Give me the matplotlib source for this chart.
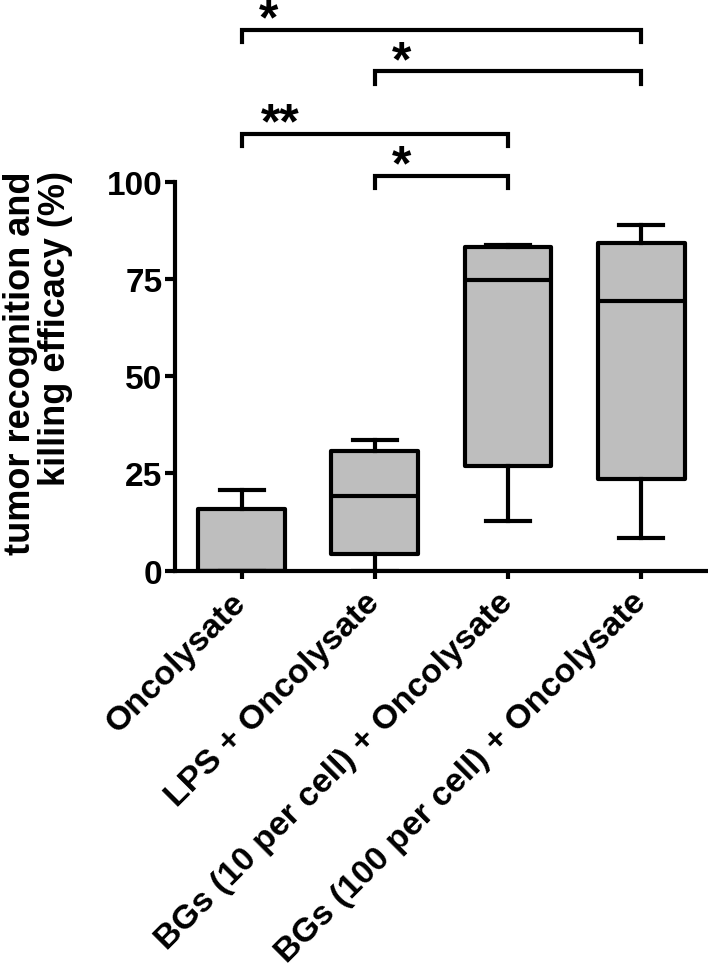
import numpy as np
import matplotlib
matplotlib.use("Agg")
import matplotlib.pyplot as plt

plt.rcParams['font.family'] = ['Liberation Sans', 'DejaVu Sans']
plt.rcParams['font.weight'] = 'bold'

# box-and-whisker summaries (min to max whiskers)
groups = ['Oncolysate', 'LPS + Oncolysate',
          'BGs (10 per cell) + Oncolysate', 'BGs (100 per cell) + Oncolysate']
mins = [0.0, 0.0, 12.9, 8.3]
q1s = [0.0, 4.3, 27.0, 23.6]
medians = [0.0, 19.3, 74.8, 69.2]
q3s = [15.8, 30.8, 83.1, 84.2]
maxs = [20.8, 33.7, 83.7, 88.9]

# significance brackets: (group a, group b, bracket height, label)
pairs = [(1, 4), (2, 4), (1, 3), (2, 3)]
bracket_y = [139.0, 128.3, 112.3, 101.5]
stars = ['*', '*', '**', '*']

stats = []
for i in range(len(groups)):
    stats.append(dict(whislo=mins[i], q1=q1s[i], med=medians[i],
                      q3=q3s[i], whishi=maxs[i], fliers=[], label=groups[i]))

fig = plt.figure(figsize=(7.08, 9.79), dpi=100)
ax = fig.add_axes([0.247, 0.416, 0.753, 0.3975])

lw = 3.0
pos = np.arange(1, len(groups) + 1)
ax.bxp(stats, positions=pos, widths=0.65, patch_artist=True, showfliers=False,
       boxprops=dict(facecolor='#bebebe', edgecolor='black', linewidth=lw,
                     joinstyle='round'),
       medianprops=dict(color='black', linewidth=lw),
       whiskerprops=dict(color='black', linewidth=lw),
       capprops=dict(color='black', linewidth=lw),
       capwidths=0.33, manage_ticks=False)

ax.set_xlim(0.5, 4.5)
ax.set_ylim(0, 100)
ax.set_yticks([0, 25, 50, 75, 100])
ax.set_xticks(pos)
ax.set_xticklabels(groups, rotation=45, ha='right', va='center',
                   rotation_mode='anchor', fontsize=24.5, fontweight='bold')
ax.tick_params(axis='x', length=6, width=lw, pad=13)
ax.tick_params(axis='y', length=7, width=lw, labelsize=24, pad=2)
for t in ax.get_yticklabels():
    t.set_fontweight('bold')
for s in ['top', 'right']:
    ax.spines[s].set_visible(False)
for s in ['left', 'bottom']:
    ax.spines[s].set_linewidth(lw)

fig.text(0.053, 0.629, 'tumor recognition and\nkilling efficacy (%)',
         rotation=90, ha='center', va='center', multialignment='right',
         fontsize=26, fontweight='bold', linespacing=1.0)

leg = 3.1
for (a, b), y, s in zip(pairs, bracket_y, stars):
    ax.plot([a, a, b, b], [y - leg, y, y, y - leg], color='black',
            linewidth=lw, clip_on=False, solid_joinstyle='miter')
    ax.text(a + (0.29 if s == '**' else 0.2), y - 1.0, s, ha='center',
            va='baseline', fontsize=36, fontweight='bold', clip_on=False)

fig.savefig('out.png', dpi=100)
